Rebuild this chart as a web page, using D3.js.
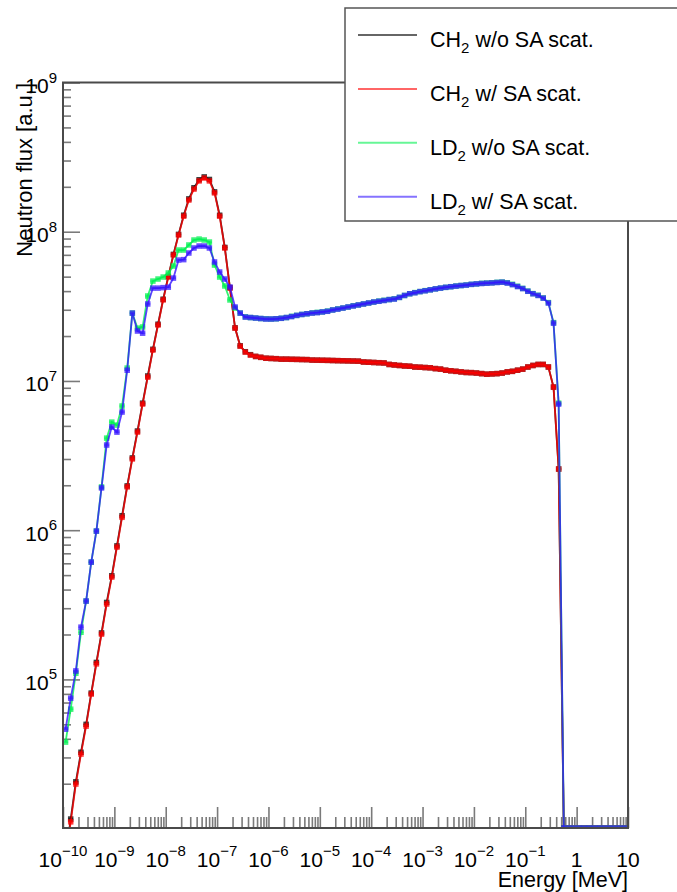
<!DOCTYPE html>
<html>
  <head>
    <meta charset="utf-8">
    <title></title>
    <style>
      body { margin: 0; background: #fff; }
      svg text { font-family: "Liberation Sans", Arial, Helvetica, sans-serif; fill: #000; }
    </style>
    <script src="https://cdnjs.cloudflare.com/ajax/libs/d3/7.8.5/d3.min.js"></script>
  </head>
  <body>
    <svg id="chart" width="677" height="892"></svg>
    <script>
// bin centres, log10(E / MeV), 10 bins per decade
var logE = [
  -9.95,-9.85,-9.75,-9.65,-9.55,-9.45,-9.35,-9.25,-9.15,-9.05,
  -8.95,-8.85,-8.75,-8.65,-8.55,-8.45,-8.35,-8.25,-8.15,-8.05,
  -7.95,-7.85,-7.75,-7.65,-7.55,-7.45,-7.35,-7.25,-7.15,-7.05,
  -6.95,-6.85,-6.75,-6.65,-6.55,-6.45,-6.35,-6.25,-6.15,-6.05,
  -5.95,-5.85,-5.75,-5.65,-5.55,-5.45,-5.35,-5.25,-5.15,-5.05,
  -4.95,-4.85,-4.75,-4.65,-4.55,-4.45,-4.35,-4.25,-4.15,-4.05,
  -3.95,-3.85,-3.75,-3.65,-3.55,-3.45,-3.35,-3.25,-3.15,-3.05,
  -2.95,-2.85,-2.75,-2.65,-2.55,-2.45,-2.35,-2.25,-2.15,-2.05,
  -1.95,-1.85,-1.75,-1.65,-1.55,-1.45,-1.35,-1.25,-1.15,-1.05,
  -0.95,-0.85,-0.75,-0.65,-0.55,-0.45,-0.35,-0.25,-0.15,-0.05,
  0.05,0.15,0.25,0.35,0.45,0.55,0.65,0.75,0.85,0.95
];

var ch2NoSA = [
  6.5e3,1.16e4,2.06e4,3.25e4,5.0e4,8.1e4,1.30e5,2.05e5,3.28e5,4.95e5,
  7.85e5,1.25e6,1.98e6,3.05e6,4.62e6,7.10e6,1.08e7,1.63e7,2.40e7,3.53e7,
  5.02e7,7.05e7,9.60e7,1.29e8,1.66e8,1.97e8,2.23e8,2.33e8,2.24e8,1.85e8,
  1.29e8,7.85e7,4.22e7,2.27e7,1.72e7,1.57e7,1.50e7,1.46e7,1.44e7,1.42e7,
  1.415e7,1.41e7,1.40e7,1.40e7,1.397e7,1.395e7,1.392e7,1.39e7,1.38e7,1.378e7,
  1.376e7,1.374e7,1.371e7,1.368e7,1.366e7,1.363e7,1.36e7,1.357e7,1.34e7,1.335e7,
  1.33e7,1.325e7,1.32e7,1.29e7,1.28e7,1.27e7,1.26e7,1.255e7,1.24e7,1.236e7,
  1.23e7,1.225e7,1.21e7,1.20e7,1.18e7,1.17e7,1.16e7,1.15e7,1.14e7,1.137e7,
  1.13e7,1.12e7,1.11e7,1.115e7,1.12e7,1.13e7,1.15e7,1.16e7,1.18e7,1.20e7,
  1.24e7,1.27e7,1.29e7,1.29e7,1.24e7,9.1e6,2.57e6,0,0,0,
  0,0,0,0,0,0,0,0,0,0
];

var ch2SA = [
  6.2e3,1.11e4,1.99e4,3.16e4,4.86e4,7.97e4,1.27e5,2.01e5,3.20e5,4.85e5,
  7.70e5,1.22e6,1.95e6,3.00e6,4.54e6,7.00e6,1.06e7,1.61e7,2.37e7,3.49e7,
  4.97e7,6.98e7,9.50e7,1.27e8,1.63e8,1.93e8,2.19e8,2.29e8,2.19e8,1.82e8,
  1.27e8,7.78e7,4.19e7,2.26e7,1.71e7,1.56e7,1.49e7,1.46e7,1.44e7,1.42e7,
  1.415e7,1.41e7,1.40e7,1.40e7,1.397e7,1.395e7,1.392e7,1.39e7,1.38e7,1.378e7,
  1.376e7,1.374e7,1.371e7,1.368e7,1.366e7,1.363e7,1.36e7,1.357e7,1.34e7,1.335e7,
  1.33e7,1.325e7,1.32e7,1.29e7,1.28e7,1.27e7,1.26e7,1.255e7,1.24e7,1.236e7,
  1.23e7,1.225e7,1.21e7,1.20e7,1.18e7,1.17e7,1.16e7,1.15e7,1.14e7,1.137e7,
  1.13e7,1.12e7,1.11e7,1.115e7,1.12e7,1.13e7,1.15e7,1.16e7,1.18e7,1.20e7,
  1.24e7,1.27e7,1.29e7,1.29e7,1.24e7,9.1e6,2.57e6,0,0,0,
  0,0,0,0,0,0,0,0,0,0
];

var ld2NoSA = [
  3.80e4,6.32e4,1.10e5,2.07e5,3.35e5,6.11e5,9.86e5,1.95e6,4.14e6,5.30e6,
  5.06e6,6.79e6,1.22e7,2.85e7,2.26e7,2.30e7,3.71e7,4.67e7,4.82e7,4.97e7,
  5.29e7,5.89e7,7.54e7,7.54e7,8.15e7,8.80e7,8.93e7,8.80e7,8.53e7,5.98e7,
  4.97e7,4.33e7,3.49e7,3.08e7,2.85e7,2.69e7,2.66e7,2.64e7,2.62e7,2.61e7,
  2.60e7,2.61e7,2.63e7,2.66e7,2.71e7,2.75e7,2.79e7,2.82e7,2.86e7,2.88e7,
  2.90e7,2.94e7,2.99e7,3.04e7,3.08e7,3.13e7,3.19e7,3.23e7,3.28e7,3.33e7,
  3.38e7,3.43e7,3.47e7,3.51e7,3.55e7,3.63e7,3.74e7,3.84e7,3.91e7,3.97e7,
  4.03e7,4.08e7,4.14e7,4.19e7,4.24e7,4.28e7,4.33e7,4.36e7,4.40e7,4.44e7,
  4.47e7,4.51e7,4.53e7,4.55e7,4.58e7,4.60e7,4.55e7,4.44e7,4.31e7,4.17e7,
  4.00e7,3.85e7,3.75e7,3.60e7,3.35e7,2.46e7,7.1e6,0,0,0,
  0,0,0,0,0,0,0,0,0,0
];

var ld2SA = [
  4.64e4,7.49e4,1.14e5,2.24e5,3.35e5,6.11e5,9.86e5,1.92e6,3.72e6,4.91e6,
  4.54e6,6.19e6,1.18e7,2.85e7,2.16e7,2.09e7,3.28e7,4.19e7,4.19e7,4.22e7,
  4.25e7,4.89e7,6.46e7,6.50e7,7.20e7,7.78e7,8.02e7,8.02e7,7.78e7,6.27e7,
  5.37e7,4.82e7,4.26e7,3.13e7,2.85e7,2.68e7,2.66e7,2.64e7,2.62e7,2.60e7,
  2.60e7,2.61e7,2.63e7,2.66e7,2.70e7,2.75e7,2.79e7,2.82e7,2.85e7,2.87e7,
  2.90e7,2.93e7,2.99e7,3.03e7,3.08e7,3.13e7,3.18e7,3.23e7,3.28e7,3.33e7,
  3.38e7,3.42e7,3.46e7,3.51e7,3.54e7,3.63e7,3.74e7,3.84e7,3.90e7,3.97e7,
  4.02e7,4.08e7,4.14e7,4.19e7,4.24e7,4.28e7,4.32e7,4.36e7,4.39e7,4.44e7,
  4.47e7,4.50e7,4.52e7,4.54e7,4.57e7,4.59e7,4.53e7,4.42e7,4.29e7,4.16e7,
  3.99e7,3.84e7,3.74e7,3.59e7,3.33e7,2.44e7,7.0e6,0,0,0,
  0,0,0,0,0,0,0,0,0,0
];

var xTicks = [1e-10,1e-9,1e-8,1e-7,1e-6,1e-5,1e-4,1e-3,1e-2,1e-1,1,10];
var xTickLabels = [["10","\u221210"],["10","\u22129"],["10","\u22128"],["10","\u22127"],
  ["10","\u22126"],["10","\u22125"],["10","\u22124"],["10","\u22123"],["10","\u22122"],
  ["10","\u22121"],["1",""],["10",""]];
var yTicks = [1e5,1e6,1e7,1e8,1e9];
var yTickLabels = [["10","5"],["10","6"],["10","7"],["10","8"],["10","9"]];

var legendNames = [["CH","2","w/o SA scat."],["CH","2","w/ SA scat."],
  ["LD","2","w/o SA scat."],["LD","2","w/ SA scat."]];
var colors = ["#000000","#ff0000","#00f050","#3414ff"];
var seriesValues = [ch2NoSA, ch2SA, ld2NoSA, ld2SA];

var L = 63, R = 628, T = 82.5, B = 828;
var yMin = 1.01e4;

var svg = d3.select("#chart");
var x = d3.scaleLog().domain([1e-10, 10]).range([L, R]);
var y = d3.scaleLog().domain([yMin, 1e9]).range([B, T]);

svg.append("defs").append("clipPath").attr("id", "plotclip")
  .append("rect").attr("x", L).attr("y", T).attr("width", R - L).attr("height", B - T);

// minor ticks 2..9 in every decade
var xMinor = [], yMinor = [];
for (var d = -10; d < 1; d++) for (var m = 2; m < 10; m++) xMinor.push(m * Math.pow(10, d));
for (var d = 4; d < 9; d++) for (var m = 2; m < 10; m++) if (m * Math.pow(10, d) > yMin) yMinor.push(m * Math.pow(10, d));

function styleAxis(g) {
  g.select(".domain").remove();
  g.selectAll(".tick line").attr("stroke", "#7a7a7a").attr("stroke-width", 1.6);
  g.selectAll(".tick text").remove();
}

svg.append("g").attr("transform", "translate(0," + B + ")")
  .call(d3.axisBottom(x).tickValues(xMinor).tickSize(-11).tickFormat("")).call(styleAxis);
svg.append("g").attr("transform", "translate(0," + B + ")")
  .call(d3.axisBottom(x).tickValues(xTicks).tickSize(-21).tickFormat("")).call(styleAxis);
svg.append("g").attr("transform", "translate(" + L + ",0)")
  .call(d3.axisLeft(y).tickValues(yMinor).tickSize(-8).tickFormat("")).call(styleAxis);
svg.append("g").attr("transform", "translate(" + L + ",0)")
  .call(d3.axisLeft(y).tickValues(yTicks).tickSize(-17).tickFormat("")).call(styleAxis);

// curves
var plot = svg.append("g").attr("clip-path", "url(#plotclip)");
var halfBin = (x(Math.pow(10, 0.1)) - x(1)) / 2;

function py(v) { return v > 0 ? y(v) : B; }

seriesValues.forEach(function(vals, k) {
  var pts = logE.map(function(le, i) { return [x(Math.pow(10, le)), py(vals[i])]; });
  var g = plot.append("g").attr("stroke", colors[k]).attr("fill", colors[k]);
  g.append("path").attr("d", d3.line()(pts)).attr("fill", "none")
    .attr("stroke-width", 1.8).attr("stroke-opacity", 0.8);
  g.selectAll("line.err").data(pts).enter().append("line").attr("class", "err")
    .attr("x1", function(p) { return p[0] - halfBin; })
    .attr("x2", function(p) { return p[0] + halfBin; })
    .attr("y1", function(p) { return p[1]; })
    .attr("y2", function(p) { return p[1]; })
    .attr("stroke-width", 1.2).attr("stroke-opacity", 0.7);
  g.selectAll("rect").data(pts).enter().append("rect")
    .attr("x", function(p) { return p[0] - 2.75; })
    .attr("y", function(p) { return p[1] - 2.75; })
    .attr("width", 5.5).attr("height", 5.5)
    .attr("stroke", "none").attr("fill-opacity", 0.75);
});

// frame
svg.append("rect").attr("x", L).attr("y", T).attr("width", R - L).attr("height", B - T)
  .attr("fill", "none").attr("stroke", "#4a4a4a").attr("stroke-width", 2);

// tick labels
xTicks.forEach(function(t, i) {
  var txt = svg.append("text").attr("x", x(t)).attr("y", 866.5)
    .attr("text-anchor", "middle").attr("font-size", 21).text(xTickLabels[i][0]);
  if (xTickLabels[i][1]) txt.append("tspan").attr("dy", -10.5).attr("font-size", 15).text(xTickLabels[i][1]);
});
yTicks.forEach(function(t, i) {
  var txt = svg.append("text").attr("x", 57).attr("y", y(t) + 10.5)
    .attr("text-anchor", "end").attr("font-size", 21).text(yTickLabels[i][0]);
  txt.append("tspan").attr("dy", -10.5).attr("font-size", 15).text(yTickLabels[i][1]);
});

// axis titles
svg.append("text").attr("x", R).attr("y", 886.5).attr("text-anchor", "end")
  .attr("font-size", 21.5).text("Energy [MeV]");
svg.append("text").attr("transform", "translate(32,83) rotate(-90)")
  .attr("text-anchor", "end").attr("font-size", 22).text("Neutron flux [a.u.]");

// legend
var leg = svg.append("g");
leg.append("rect").attr("x", 345).attr("y", 8).attr("width", 345).attr("height", 213)
  .attr("fill", "#fff").attr("stroke", "#555").attr("stroke-width", 1.5);
legendNames.forEach(function(n, i) {
  var ly = 35 + i * 53.9;
  leg.append("line").attr("x1", 358).attr("x2", 417).attr("y1", ly).attr("y2", ly)
    .attr("stroke", colors[i]).attr("stroke-width", 2).attr("stroke-opacity", 0.6);
  var txt = leg.append("text").attr("x", 430).attr("y", ly + 12.3).attr("font-size", 21.5).text(n[0]);
  txt.append("tspan").attr("dy", 6).attr("font-size", 15).text(n[1]);
  txt.append("tspan").attr("dx", 6).attr("dy", -6).text(n[2]);
});
    </script>
  </body>
</html>
